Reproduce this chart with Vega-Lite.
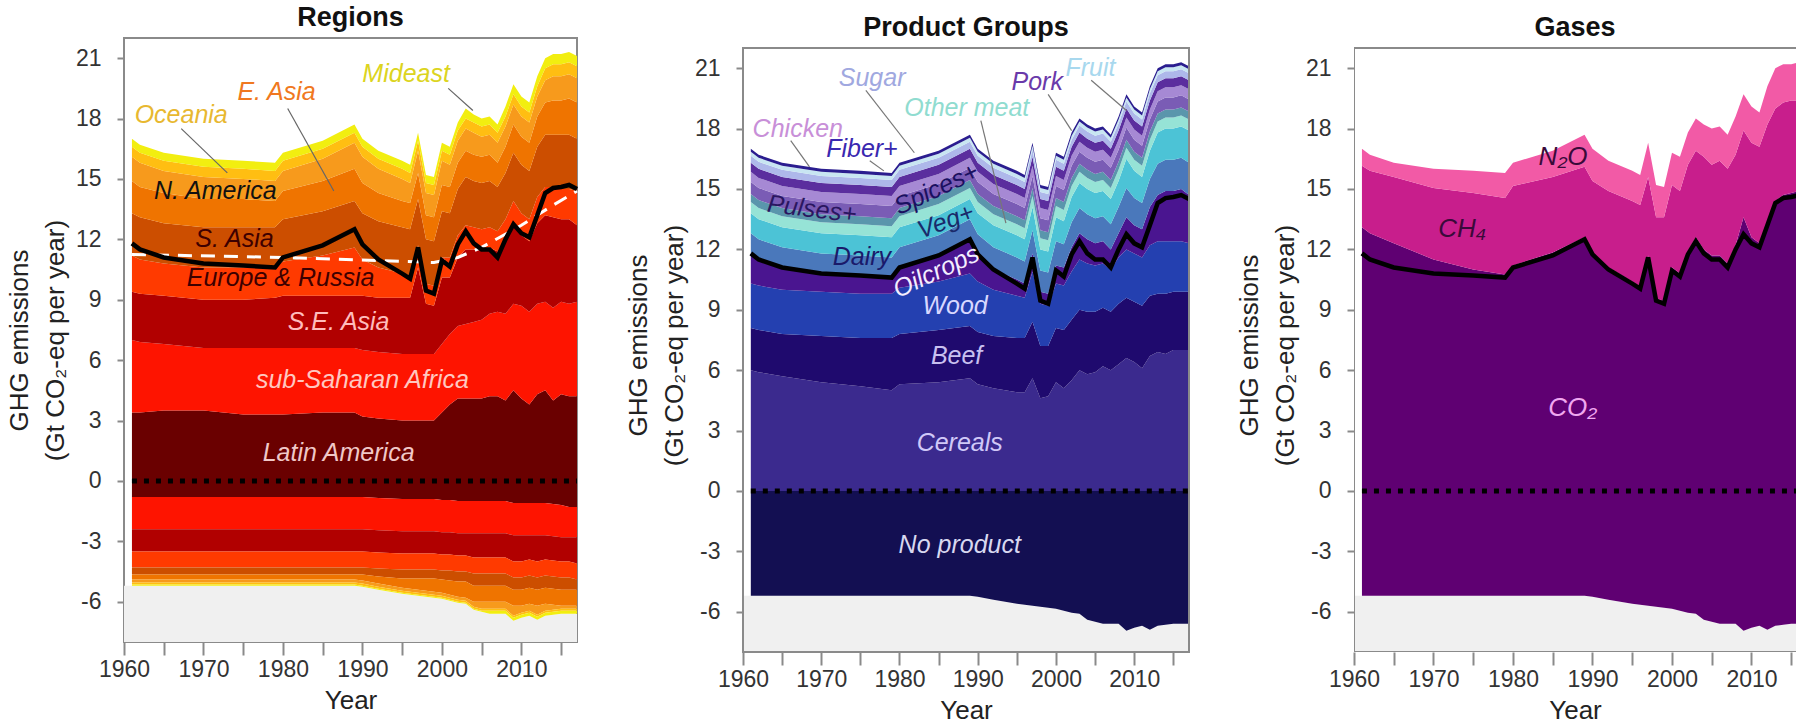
{
"$schema": "https://vega.github.io/schema/vega-lite/v6.json",
"padding": {"left": 5, "top": 3, "right": 0, "bottom": 0},
"background": "white",
"columns": 3,
"align": "none",
"spacing": 38,
"config": {
  "font": "Liberation Sans",
  "view": {"stroke": "#8a8a8a", "strokeWidth": 2},
  "legend": {"disable": true},
  "axis": {"labelFont": "Liberation Sans", "labelFontSize": 23, "labelColor": "#333", "titleFont": "Liberation Sans", "titleFontSize": 26, "titleFontWeight": "normal", "titleColor": "#222", "tickColor": "#8a8a8a", "tickWidth": 2, "domain": false, "grid": false},
  "axisY": {"labelPadding": 16, "titlePadding": 7, "titleLineHeight": 36},
  "title": {"font": "Liberation Sans", "fontSize": 27, "fontWeight": "bold", "color": "#111", "offset": 6, "anchor": "middle"}
},
"resolve": {"scale": {"color": "independent", "x": "independent", "y": "independent"}},
"datasets": {
  "regions": [
    {"year":1961,"p1":3.4,"p2":3.6,"p3":2.4,"p4":1.8,"p5":2.1,"p6":1.6,"p7":1.2,"p8":0.5,"p9":0.4,"n1":-0.8,"n2":-1.6,"n3":-1.1,"n4":-0.8,"n5":-0.35,"n6":-0.25,"n7":-0.15,"n8":-0.1,"n9":-0.05},
    {"year":1962,"p1":3.4,"p2":3.5,"p3":2.4,"p4":1.7,"p5":2.1,"p6":1.5,"p7":1.2,"p8":0.5,"p9":0.4,"n1":-0.8,"n2":-1.6,"n3":-1.1,"n4":-0.8,"n5":-0.35,"n6":-0.25,"n7":-0.15,"n8":-0.1,"n9":-0.05},
    {"year":1965,"p1":3.5,"p2":3.3,"p3":2.4,"p4":1.6,"p5":2.0,"p6":1.5,"p7":1.1,"p8":0.5,"p9":0.4,"n1":-0.8,"n2":-1.6,"n3":-1.1,"n4":-0.8,"n5":-0.35,"n6":-0.25,"n7":-0.15,"n8":-0.1,"n9":-0.05},
    {"year":1970,"p1":3.5,"p2":3.1,"p3":2.4,"p4":1.6,"p5":2.0,"p6":1.4,"p7":1.1,"p8":0.5,"p9":0.4,"n1":-0.8,"n2":-1.6,"n3":-1.1,"n4":-0.8,"n5":-0.35,"n6":-0.25,"n7":-0.15,"n8":-0.1,"n9":-0.05},
    {"year":1975,"p1":3.3,"p2":3.3,"p3":2.4,"p4":1.6,"p5":2.0,"p6":1.4,"p7":1.0,"p8":0.5,"p9":0.4,"n1":-0.8,"n2":-1.6,"n3":-1.1,"n4":-0.8,"n5":-0.35,"n6":-0.25,"n7":-0.15,"n8":-0.1,"n9":-0.05},
    {"year":1979,"p1":3.3,"p2":3.3,"p3":2.5,"p4":1.5,"p5":2.0,"p6":1.3,"p7":1.0,"p8":0.5,"p9":0.4,"n1":-0.8,"n2":-1.6,"n3":-1.1,"n4":-0.8,"n5":-0.35,"n6":-0.25,"n7":-0.15,"n8":-0.1,"n9":-0.05},
    {"year":1980,"p1":3.3,"p2":3.3,"p3":2.6,"p4":1.7,"p5":2.1,"p6":1.4,"p7":1.0,"p8":0.5,"p9":0.4,"n1":-0.8,"n2":-1.6,"n3":-1.1,"n4":-0.8,"n5":-0.35,"n6":-0.25,"n7":-0.15,"n8":-0.1,"n9":-0.05},
    {"year":1985,"p1":3.4,"p2":3.2,"p3":2.6,"p4":2.0,"p5":2.2,"p6":1.5,"p7":1.1,"p8":0.5,"p9":0.4,"n1":-0.8,"n2":-1.6,"n3":-1.1,"n4":-0.8,"n5":-0.35,"n6":-0.25,"n7":-0.15,"n8":-0.1,"n9":-0.05},
    {"year":1989,"p1":3.4,"p2":3.2,"p3":2.6,"p4":2.4,"p5":2.3,"p6":1.6,"p7":1.3,"p8":0.5,"p9":0.4,"n1":-0.8,"n2":-1.6,"n3":-1.1,"n4":-0.8,"n5":-0.35,"n6":-0.25,"n7":-0.15,"n8":-0.1,"n9":-0.05},
    {"year":1990,"p1":3.2,"p2":3.3,"p3":2.7,"p4":1.8,"p5":2.3,"p6":1.5,"p7":1.3,"p8":0.5,"p9":0.4,"n1":-0.8,"n2":-1.6,"n3":-1.1,"n4":-0.8,"n5":-0.35,"n6":-0.3,"n7":-0.15,"n8":-0.1,"n9":-0.05},
    {"year":1992,"p1":3.1,"p2":3.3,"p3":2.7,"p4":1.5,"p5":2.3,"p6":1.4,"p7":1.2,"p8":0.5,"p9":0.4,"n1":-0.85,"n2":-1.6,"n3":-1.1,"n4":-0.8,"n5":-0.4,"n6":-0.35,"n7":-0.15,"n8":-0.1,"n9":-0.05},
    {"year":1995,"p1":3.0,"p2":3.3,"p3":2.8,"p4":1.2,"p5":2.3,"p6":1.3,"p7":1.1,"p8":0.5,"p9":0.4,"n1":-0.9,"n2":-1.6,"n3":-1.1,"n4":-0.8,"n5":-0.45,"n6":-0.45,"n7":-0.15,"n8":-0.1,"n9":-0.05},
    {"year":1996,"p1":3.0,"p2":3.3,"p3":2.8,"p4":1.1,"p5":2.3,"p6":1.3,"p7":1.0,"p8":0.5,"p9":0.4,"n1":-0.9,"n2":-1.6,"n3":-1.1,"n4":-0.8,"n5":-0.45,"n6":-0.5,"n7":-0.15,"n8":-0.1,"n9":-0.05},
    {"year":1997,"p1":3.0,"p2":3.3,"p3":4.3,"p4":1.1,"p5":2.3,"p6":1.3,"p7":1.1,"p8":0.5,"p9":0.4,"n1":-0.9,"n2":-1.6,"n3":-1.1,"n4":-0.8,"n5":-0.45,"n6":-0.55,"n7":-0.15,"n8":-0.1,"n9":-0.05},
    {"year":1998,"p1":3.0,"p2":3.3,"p3":2.5,"p4":1.0,"p5":2.2,"p6":1.2,"p7":1.1,"p8":0.5,"p9":0.4,"n1":-0.9,"n2":-1.6,"n3":-1.1,"n4":-0.8,"n5":-0.45,"n6":-0.6,"n7":-0.15,"n8":-0.1,"n9":-0.05},
    {"year":1999,"p1":3.0,"p2":3.3,"p3":2.4,"p4":1.0,"p5":2.2,"p6":1.2,"p7":1.1,"p8":0.5,"p9":0.4,"n1":-0.9,"n2":-1.6,"n3":-1.1,"n4":-0.8,"n5":-0.45,"n6":-0.65,"n7":-0.15,"n8":-0.1,"n9":-0.05},
    {"year":2000,"p1":3.4,"p2":3.4,"p3":3.3,"p4":1.0,"p5":2.3,"p6":1.3,"p7":1.2,"p8":0.5,"p9":0.4,"n1":-0.95,"n2":-1.6,"n3":-1.1,"n4":-0.8,"n5":-0.45,"n6":-0.65,"n7":-0.15,"n8":-0.1,"n9":-0.05},
    {"year":2001,"p1":3.8,"p2":3.5,"p3":2.8,"p4":1.0,"p5":2.2,"p6":1.3,"p7":1.1,"p8":0.5,"p9":0.4,"n1":-0.95,"n2":-1.6,"n3":-1.1,"n4":-0.8,"n5":-0.5,"n6":-0.7,"n7":-0.15,"n8":-0.1,"n9":-0.05},
    {"year":2002,"p1":4.1,"p2":3.6,"p3":3.4,"p4":1.1,"p5":2.3,"p6":1.3,"p7":1.1,"p8":0.5,"p9":0.4,"n1":-1.0,"n2":-1.6,"n3":-1.1,"n4":-0.8,"n5":-0.5,"n6":-0.75,"n7":-0.15,"n8":-0.1,"n9":-0.05},
    {"year":2003,"p1":4.1,"p2":3.7,"p3":3.7,"p4":1.2,"p5":2.4,"p6":1.3,"p7":1.1,"p8":0.5,"p9":0.5,"n1":-1.0,"n2":-1.6,"n3":-1.1,"n4":-0.8,"n5":-0.5,"n6":-0.8,"n7":-0.15,"n8":-0.1,"n9":-0.05},
    {"year":2004,"p1":4.1,"p2":3.8,"p3":3.6,"p4":1.1,"p5":2.3,"p6":1.3,"p7":1.1,"p8":0.5,"p9":0.4,"n1":-1.0,"n2":-1.6,"n3":-1.2,"n4":-0.8,"n5":-0.6,"n6":-0.8,"n7":-0.25,"n8":-0.1,"n9":-0.05},
    {"year":2005,"p1":4.1,"p2":3.9,"p3":3.5,"p4":1.0,"p5":2.3,"p6":1.3,"p7":1.0,"p8":0.5,"p9":0.4,"n1":-1.0,"n2":-1.6,"n3":-1.2,"n4":-0.8,"n5":-0.6,"n6":-0.8,"n7":-0.35,"n8":-0.1,"n9":-0.05},
    {"year":2006,"p1":4.2,"p2":4.1,"p3":3.3,"p4":1.0,"p5":2.3,"p6":1.3,"p7":1.0,"p8":0.5,"p9":0.4,"n1":-1.0,"n2":-1.6,"n3":-1.2,"n4":-0.8,"n5":-0.6,"n6":-0.8,"n7":-0.35,"n8":-0.1,"n9":-0.15},
    {"year":2007,"p1":4.2,"p2":4.2,"p3":3.0,"p4":1.0,"p5":2.2,"p6":1.2,"p7":1.0,"p8":0.5,"p9":0.4,"n1":-1.0,"n2":-1.6,"n3":-1.2,"n4":-0.8,"n5":-0.6,"n6":-0.8,"n7":-0.35,"n8":-0.1,"n9":-0.15},
    {"year":2008,"p1":4.0,"p2":4.3,"p3":3.6,"p4":1.1,"p5":2.3,"p6":1.3,"p7":1.0,"p8":0.5,"p9":0.5,"n1":-1.0,"n2":-1.6,"n3":-1.2,"n4":-0.8,"n5":-0.6,"n6":-0.8,"n7":-0.35,"n8":-0.1,"n9":-0.15},
    {"year":2009,"p1":4.5,"p2":4.3,"p3":3.9,"p4":1.2,"p5":2.4,"p6":1.4,"p7":1.0,"p8":0.5,"p9":0.5,"n1":-1.1,"n2":-1.6,"n3":-1.3,"n4":-0.8,"n5":-0.6,"n6":-0.8,"n7":-0.5,"n8":-0.1,"n9":-0.15},
    {"year":2010,"p1":4.1,"p2":4.6,"p3":3.5,"p4":1.1,"p5":2.4,"p6":1.4,"p7":1.0,"p8":0.5,"p9":0.5,"n1":-1.1,"n2":-1.6,"n3":-1.3,"n4":-0.8,"n5":-0.6,"n6":-0.8,"n7":-0.35,"n8":-0.1,"n9":-0.15},
    {"year":2011,"p1":3.8,"p2":4.6,"p3":3.5,"p4":1.1,"p5":2.4,"p6":1.4,"p7":1.0,"p8":0.5,"p9":0.5,"n1":-1.1,"n2":-1.6,"n3":-1.2,"n4":-0.8,"n5":-0.6,"n6":-0.8,"n7":-0.35,"n8":-0.1,"n9":-0.15},
    {"year":2012,"p1":4.3,"p2":4.5,"p3":4.0,"p4":1.3,"p5":2.5,"p6":1.5,"p7":1.0,"p8":0.5,"p9":0.5,"n1":-1.1,"n2":-1.6,"n3":-1.3,"n4":-0.8,"n5":-0.6,"n6":-0.8,"n7":-0.45,"n8":-0.1,"n9":-0.15},
    {"year":2013,"p1":4.5,"p2":4.4,"p3":4.3,"p4":1.4,"p5":2.6,"p6":1.6,"p7":1.1,"p8":0.6,"p9":0.5,"n1":-1.1,"n2":-1.6,"n3":-1.2,"n4":-0.8,"n5":-0.6,"n6":-0.8,"n7":-0.35,"n8":-0.1,"n9":-0.15},
    {"year":2014,"p1":4.0,"p2":4.6,"p3":4.5,"p4":1.5,"p5":2.6,"p6":1.7,"p7":1.2,"p8":0.6,"p9":0.5,"n1":-1.15,"n2":-1.6,"n3":-1.2,"n4":-0.8,"n5":-0.6,"n6":-0.8,"n7":-0.25,"n8":-0.1,"n9":-0.15},
    {"year":2015,"p1":4.3,"p2":4.6,"p3":4.1,"p4":1.5,"p5":2.7,"p6":1.7,"p7":1.2,"p8":0.6,"p9":0.5,"n1":-1.2,"n2":-1.6,"n3":-1.2,"n4":-0.8,"n5":-0.6,"n6":-0.8,"n7":-0.15,"n8":-0.1,"n9":-0.15},
    {"year":2016,"p1":4.2,"p2":4.6,"p3":4.2,"p4":1.5,"p5":2.7,"p6":1.8,"p7":1.2,"p8":0.6,"p9":0.5,"n1":-1.3,"n2":-1.5,"n3":-1.2,"n4":-0.8,"n5":-0.6,"n6":-0.8,"n7":-0.15,"n8":-0.1,"n9":-0.15},
    {"year":2017,"p1":4.2,"p2":4.7,"p3":3.8,"p4":1.7,"p5":2.6,"p6":1.8,"p7":1.2,"p8":0.6,"p9":0.5,"n1":-1.3,"n2":-1.5,"n3":-1.3,"n4":-0.8,"n5":-0.5,"n6":-0.8,"n7":-0.15,"n8":-0.1,"n9":-0.15}
  ],
  "products": [
    {"year":1961,"p01":6.0,"p02":2.1,"p03":2.2,"p04":1.5,"p05":1.0,"p06":1.0,"p07":0.55,"p08":0.4,"p09":0.6,"p10":0.5,"p11":0.45,"p12":0.35,"p13":0.2,"p14":0.15,"n01":-5.2},
    {"year":1962,"p01":5.9,"p02":2.1,"p03":2.2,"p04":1.3,"p05":1.0,"p06":1.0,"p07":0.55,"p08":0.4,"p09":0.6,"p10":0.5,"p11":0.45,"p12":0.35,"p13":0.2,"p14":0.15,"n01":-5.2},
    {"year":1965,"p01":5.7,"p02":2.1,"p03":2.2,"p04":1.1,"p05":1.0,"p06":1.0,"p07":0.55,"p08":0.4,"p09":0.6,"p10":0.5,"p11":0.45,"p12":0.35,"p13":0.2,"p14":0.15,"n01":-5.2},
    {"year":1970,"p01":5.4,"p02":2.3,"p03":2.2,"p04":0.9,"p05":1.0,"p06":1.0,"p07":0.55,"p08":0.4,"p09":0.6,"p10":0.5,"p11":0.45,"p12":0.35,"p13":0.2,"p14":0.15,"n01":-5.2},
    {"year":1975,"p01":5.2,"p02":2.4,"p03":2.2,"p04":0.9,"p05":1.0,"p06":1.0,"p07":0.55,"p08":0.4,"p09":0.6,"p10":0.5,"p11":0.45,"p12":0.35,"p13":0.2,"p14":0.15,"n01":-5.2},
    {"year":1979,"p01":5.0,"p02":2.6,"p03":2.2,"p04":0.8,"p05":1.0,"p06":1.0,"p07":0.55,"p08":0.4,"p09":0.6,"p10":0.5,"p11":0.45,"p12":0.35,"p13":0.2,"p14":0.15,"n01":-5.2},
    {"year":1980,"p01":5.3,"p02":2.5,"p03":2.3,"p04":1.0,"p05":1.0,"p06":1.0,"p07":0.55,"p08":0.4,"p09":0.6,"p10":0.5,"p11":0.45,"p12":0.35,"p13":0.2,"p14":0.15,"n01":-5.2},
    {"year":1985,"p01":5.4,"p02":2.6,"p03":2.4,"p04":1.3,"p05":1.0,"p06":1.0,"p07":0.55,"p08":0.4,"p09":0.6,"p10":0.5,"p11":0.45,"p12":0.35,"p13":0.2,"p14":0.15,"n01":-5.2},
    {"year":1989,"p01":5.6,"p02":2.6,"p03":2.6,"p04":1.7,"p05":1.0,"p06":1.0,"p07":0.55,"p08":0.4,"p09":0.6,"p10":0.5,"p11":0.45,"p12":0.35,"p13":0.2,"p14":0.15,"n01":-5.2},
    {"year":1990,"p01":5.3,"p02":2.6,"p03":2.5,"p04":1.35,"p05":1.0,"p06":1.05,"p07":0.55,"p08":0.4,"p09":0.6,"p10":0.5,"p11":0.45,"p12":0.35,"p13":0.2,"p14":0.15,"n01":-5.25},
    {"year":1992,"p01":5.1,"p02":2.6,"p03":2.3,"p04":1.0,"p05":1.1,"p06":1.1,"p07":0.55,"p08":0.4,"p09":0.6,"p10":0.5,"p11":0.45,"p12":0.35,"p13":0.2,"p14":0.15,"n01":-5.4},
    {"year":1995,"p01":4.9,"p02":2.7,"p03":2.1,"p04":0.8,"p05":1.1,"p06":1.1,"p07":0.55,"p08":0.4,"p09":0.6,"p10":0.5,"p11":0.45,"p12":0.35,"p13":0.2,"p14":0.15,"n01":-5.6},
    {"year":1996,"p01":4.9,"p02":2.7,"p03":2.0,"p04":0.7,"p05":1.1,"p06":1.1,"p07":0.55,"p08":0.4,"p09":0.6,"p10":0.5,"p11":0.45,"p12":0.35,"p13":0.2,"p14":0.15,"n01":-5.65},
    {"year":1997,"p01":5.6,"p02":2.8,"p03":2.5,"p04":0.9,"p05":1.15,"p06":1.15,"p07":0.55,"p08":0.4,"p09":0.6,"p10":0.5,"p11":0.45,"p12":0.35,"p13":0.2,"p14":0.15,"n01":-5.7},
    {"year":1998,"p01":4.6,"p02":2.6,"p03":2.1,"p04":0.6,"p05":1.05,"p06":1.05,"p07":0.55,"p08":0.4,"p09":0.6,"p10":0.5,"p11":0.45,"p12":0.35,"p13":0.2,"p14":0.15,"n01":-5.75},
    {"year":1999,"p01":4.7,"p02":2.5,"p03":2.0,"p04":0.6,"p05":1.05,"p06":1.05,"p07":0.55,"p08":0.4,"p09":0.6,"p10":0.5,"p11":0.45,"p12":0.35,"p13":0.2,"p14":0.15,"n01":-5.8},
    {"year":2000,"p01":5.4,"p02":2.7,"p03":2.2,"p04":0.9,"p05":1.2,"p06":1.2,"p07":0.55,"p08":0.4,"p09":0.6,"p10":0.5,"p11":0.45,"p12":0.35,"p13":0.2,"p14":0.15,"n01":-5.85},
    {"year":2001,"p01":5.1,"p02":2.9,"p03":2.2,"p04":0.9,"p05":1.15,"p06":1.15,"p07":0.55,"p08":0.4,"p09":0.6,"p10":0.5,"p11":0.45,"p12":0.35,"p13":0.2,"p14":0.15,"n01":-5.95},
    {"year":2002,"p01":5.5,"p02":3.0,"p03":2.4,"p04":1.2,"p05":1.25,"p06":1.25,"p07":0.55,"p08":0.4,"p09":0.6,"p10":0.5,"p11":0.45,"p12":0.35,"p13":0.2,"p14":0.15,"n01":-6.05},
    {"year":2003,"p01":6.0,"p02":3.0,"p03":2.5,"p04":1.3,"p05":1.25,"p06":1.25,"p07":0.55,"p08":0.4,"p09":0.6,"p10":0.5,"p11":0.45,"p12":0.35,"p13":0.2,"p14":0.15,"n01":-6.1},
    {"year":2004,"p01":5.8,"p02":3.1,"p03":2.4,"p04":1.2,"p05":1.25,"p06":1.25,"p07":0.55,"p08":0.4,"p09":0.6,"p10":0.5,"p11":0.45,"p12":0.35,"p13":0.2,"p14":0.15,"n01":-6.4},
    {"year":2005,"p01":5.9,"p02":3.0,"p03":2.3,"p04":1.1,"p05":1.25,"p06":1.25,"p07":0.55,"p08":0.4,"p09":0.6,"p10":0.5,"p11":0.45,"p12":0.35,"p13":0.2,"p14":0.15,"n01":-6.5},
    {"year":2006,"p01":6.2,"p02":2.9,"p03":2.2,"p04":1.1,"p05":1.25,"p06":1.25,"p07":0.55,"p08":0.4,"p09":0.6,"p10":0.5,"p11":0.45,"p12":0.35,"p13":0.2,"p14":0.15,"n01":-6.6},
    {"year":2007,"p01":6.0,"p02":2.9,"p03":2.1,"p04":1.0,"p05":1.25,"p06":1.25,"p07":0.55,"p08":0.4,"p09":0.6,"p10":0.5,"p11":0.45,"p12":0.35,"p13":0.2,"p14":0.15,"n01":-6.6},
    {"year":2008,"p01":6.3,"p02":3.0,"p03":2.3,"p04":1.2,"p05":1.3,"p06":1.3,"p07":0.55,"p08":0.4,"p09":0.6,"p10":0.5,"p11":0.45,"p12":0.35,"p13":0.2,"p14":0.15,"n01":-6.6},
    {"year":2009,"p01":6.6,"p02":3.0,"p03":2.4,"p04":1.6,"p05":1.45,"p06":1.45,"p07":0.55,"p08":0.4,"p09":0.6,"p10":0.5,"p11":0.45,"p12":0.35,"p13":0.2,"p14":0.15,"n01":-6.95},
    {"year":2010,"p01":6.4,"p02":3.0,"p03":2.4,"p04":1.4,"p05":1.35,"p06":1.35,"p07":0.55,"p08":0.4,"p09":0.6,"p10":0.5,"p11":0.45,"p12":0.35,"p13":0.2,"p14":0.15,"n01":-6.8},
    {"year":2011,"p01":6.1,"p02":3.1,"p03":2.4,"p04":1.4,"p05":1.3,"p06":1.3,"p07":0.55,"p08":0.4,"p09":0.6,"p10":0.5,"p11":0.45,"p12":0.35,"p13":0.2,"p14":0.15,"n01":-6.7},
    {"year":2012,"p01":6.7,"p02":3.0,"p03":2.5,"p04":1.9,"p05":1.4,"p06":1.4,"p07":0.55,"p08":0.4,"p09":0.6,"p10":0.5,"p11":0.45,"p12":0.35,"p13":0.2,"p14":0.15,"n01":-6.9},
    {"year":2013,"p01":6.9,"p02":2.9,"p03":2.6,"p04":2.3,"p05":1.55,"p06":1.55,"p07":0.55,"p08":0.4,"p09":0.6,"p10":0.5,"p11":0.45,"p12":0.35,"p13":0.2,"p14":0.15,"n01":-6.7},
    {"year":2014,"p01":6.8,"p02":3.0,"p03":2.6,"p04":2.5,"p05":1.55,"p06":1.55,"p07":0.55,"p08":0.4,"p09":0.6,"p10":0.5,"p11":0.45,"p12":0.35,"p13":0.2,"p14":0.15,"n01":-6.65},
    {"year":2015,"p01":7.0,"p02":2.9,"p03":2.5,"p04":2.5,"p05":1.55,"p06":1.55,"p07":0.55,"p08":0.4,"p09":0.6,"p10":0.5,"p11":0.45,"p12":0.35,"p13":0.2,"p14":0.15,"n01":-6.6},
    {"year":2016,"p01":7.0,"p02":2.9,"p03":2.5,"p04":2.6,"p05":1.55,"p06":1.55,"p07":0.55,"p08":0.4,"p09":0.6,"p10":0.5,"p11":0.45,"p12":0.35,"p13":0.2,"p14":0.15,"n01":-6.6},
    {"year":2017,"p01":7.0,"p02":2.9,"p03":2.4,"p04":2.4,"p05":1.6,"p06":1.6,"p07":0.55,"p08":0.4,"p09":0.6,"p10":0.5,"p11":0.45,"p12":0.35,"p13":0.2,"p14":0.15,"n01":-6.6}
  ],
  "gases": [
    {"year":1961,"p1":13.1,"p2":3.05,"p3":0.85,"n1":-5.2},
    {"year":1962,"p1":12.8,"p2":3.1,"p3":0.8,"n1":-5.2},
    {"year":1965,"p1":12.3,"p2":3.3,"p3":0.7,"n1":-5.2},
    {"year":1970,"p1":11.5,"p2":3.55,"p3":0.95,"n1":-5.2},
    {"year":1975,"p1":11.0,"p2":3.8,"p3":1.1,"n1":-5.2},
    {"year":1979,"p1":10.75,"p2":3.8,"p3":1.25,"n1":-5.2},
    {"year":1980,"p1":11.2,"p2":3.95,"p3":1.15,"n1":-5.2},
    {"year":1985,"p1":11.85,"p2":3.75,"p3":1.3,"n1":-5.2},
    {"year":1989,"p1":12.6,"p2":3.5,"p3":1.6,"n1":-5.2},
    {"year":1990,"p1":11.85,"p2":3.55,"p3":1.6,"n1":-5.25},
    {"year":1992,"p1":11.1,"p2":3.8,"p3":1.5,"n1":-5.4},
    {"year":1995,"p1":10.4,"p2":4.0,"p3":1.5,"n1":-5.6},
    {"year":1996,"p1":10.15,"p2":4.05,"p3":1.5,"n1":-5.65},
    {"year":1997,"p1":11.7,"p2":3.9,"p3":1.7,"n1":-5.7},
    {"year":1998,"p1":9.55,"p2":4.05,"p3":1.6,"n1":-5.75},
    {"year":1999,"p1":9.45,"p2":4.15,"p3":1.5,"n1":-5.8},
    {"year":2000,"p1":11.1,"p2":4.1,"p3":1.6,"n1":-5.85},
    {"year":2001,"p1":10.8,"p2":4.1,"p3":1.7,"n1":-5.95},
    {"year":2002,"p1":11.9,"p2":4.3,"p3":1.6,"n1":-6.05},
    {"year":2003,"p1":12.6,"p2":4.3,"p3":1.6,"n1":-6.1},
    {"year":2004,"p1":12.0,"p2":4.6,"p3":1.6,"n1":-6.4},
    {"year":2005,"p1":11.7,"p2":4.5,"p3":1.8,"n1":-6.5},
    {"year":2006,"p1":11.7,"p2":4.7,"p3":1.7,"n1":-6.6},
    {"year":2007,"p1":11.3,"p2":4.7,"p3":1.7,"n1":-6.6},
    {"year":2008,"p1":12.2,"p2":4.5,"p3":1.9,"n1":-6.6},
    {"year":2009,"p1":13.6,"p2":4.3,"p3":1.8,"n1":-6.95},
    {"year":2010,"p1":12.6,"p2":4.7,"p3":1.8,"n1":-6.8},
    {"year":2011,"p1":12.3,"p2":4.8,"p3":1.7,"n1":-6.7},
    {"year":2012,"p1":13.3,"p2":4.9,"p3":1.9,"n1":-6.9},
    {"year":2013,"p1":14.4,"p2":4.6,"p3":2.0,"n1":-6.7},
    {"year":2014,"p1":14.7,"p2":4.6,"p3":1.9,"n1":-6.65},
    {"year":2015,"p1":14.8,"p2":4.6,"p3":1.8,"n1":-6.6},
    {"year":2016,"p1":14.9,"p2":4.5,"p3":1.9,"n1":-6.6},
    {"year":2017,"p1":14.7,"p2":4.6,"p3":1.8,"n1":-6.6}
  ],
  "tot": [
    {"year":1960,"net":null,"neg":-5.2},
    {"year":1961,"net":11.8,"neg":-5.2},{"year":1962,"net":11.5,"neg":-5.2},{"year":1965,"net":11.1,"neg":-5.2},
    {"year":1970,"net":10.8,"neg":-5.2},{"year":1975,"net":10.7,"neg":-5.2},{"year":1979,"net":10.6,"neg":-5.2},
    {"year":1980,"net":11.1,"neg":-5.2},{"year":1985,"net":11.7,"neg":-5.2},{"year":1989,"net":12.5,"neg":-5.2},
    {"year":1990,"net":11.75,"neg":-5.25},{"year":1992,"net":11.0,"neg":-5.4},{"year":1995,"net":10.3,"neg":-5.6},
    {"year":1996,"net":10.05,"neg":-5.65},{"year":1997,"net":11.6,"neg":-5.7},{"year":1998,"net":9.45,"neg":-5.75},
    {"year":1999,"net":9.3,"neg":-5.8},{"year":2000,"net":10.95,"neg":-5.85},{"year":2001,"net":10.65,"neg":-5.95},
    {"year":2002,"net":11.75,"neg":-6.05},{"year":2003,"net":12.4,"neg":-6.1},{"year":2004,"net":11.8,"neg":-6.4},
    {"year":2005,"net":11.5,"neg":-6.5},{"year":2006,"net":11.5,"neg":-6.6},{"year":2007,"net":11.1,"neg":-6.6},
    {"year":2008,"net":12.0,"neg":-6.6},{"year":2009,"net":12.75,"neg":-6.95},{"year":2010,"net":12.3,"neg":-6.8},
    {"year":2011,"net":12.1,"neg":-6.7},{"year":2012,"net":13.2,"neg":-6.9},{"year":2013,"net":14.3,"neg":-6.7},
    {"year":2014,"net":14.55,"neg":-6.65},{"year":2015,"net":14.6,"neg":-6.6},{"year":2016,"net":14.7,"neg":-6.6},
    {"year":2017,"net":14.5,"neg":-6.6}
  ],
  "trend": [
    {"year":1961,"v":11.25},{"year":1980,"v":11.1},{"year":1999,"v":10.85},{"year":2002,"v":11.1},
    {"year":2005,"v":11.6},{"year":2010,"v":12.7},{"year":2014,"v":13.7},{"year":2017,"v":14.4}
  ]
},
"concat": [
{
  "width": 453, "height": 604,
  "title": {"text": "Regions"},
  "resolve": {"scale": {"color": "independent"}},
  "layer": [
    {"data": {"name": "tot"}, "mark": {"type": "area", "color": "#f0f0f0"},
     "encoding": {
       "x": {"field": "year", "type": "quantitative", "scale": {"domain": [1960, 2017], "nice": false, "zero": false},
             "axis": {"values": [1960,1965,1970,1975,1980,1985,1990,1995,2000,2005,2010,2015], "format": "d", "labelExpr": "datum.value % 10 === 0 ? datum.label : ''", "tickSize": 13, "labelPadding": 3, "title": "Year", "titlePadding": 6, "labelOverlap": false, "labelFlush": false}},
       "y": {"field": "neg", "type": "quantitative", "scale": {"domain": [-8, 22], "nice": false, "zero": false},
             "axis": {"values": [-6,-3,0,3,6,9,12,15,18,21], "labelExpr": "replace(datum.label, '\u2212', '-')", "tickSize": 7, "title": ["GHG emissions", "(Gt CO\u2082-eq per year)"]}},
       "y2": {"datum": -8}}},
    {"data": {"name": "regions"},
     "transform": [{"fold": ["p1","p2","p3","p4","p5","p6","p7","p8","p9","n1","n2","n3","n4","n5","n6","n7","n8","n9"], "as": ["key", "value"]}],
     "mark": {"type": "area"},
     "encoding": {
       "x": {"field": "year", "type": "quantitative", "scale": {"domain": [1960, 2017], "nice": false, "zero": false}},
       "y": {"field": "value", "type": "quantitative", "stack": "zero", "scale": {"domain": [-8, 22], "nice": false, "zero": false}},
       "color": {"field": "key", "type": "nominal", "legend": null,
         "scale": {"domain": ["p1","p2","p3","p4","p5","p6","p7","p8","p9","n1","n2","n3","n4","n5","n6","n7","n8","n9"],
                   "range": ["#6a0000","#fe1400","#b10000","#ff3a00","#cc4e00","#ef7400","#f79a1c","#ffbe12","#f2ee10","#6a0000","#fe1400","#b10000","#ff3a00","#cc4e00","#ef7400","#f79a1c","#ffbe12","#f2ee10"]}},
       "order": {"field": "key", "type": "ordinal"}}},
    {"data": {"values": [{}]},
     "mark": {"type": "rule", "color": "#000", "strokeWidth": 5, "strokeDash": [5, 7]},
     "encoding": {"y": {"datum": 0, "scale": {"domain": [-8, 22], "nice": false, "zero": false}}, "x": {"datum": 1961, "scale": {"domain": [1960, 2017], "nice": false, "zero": false}}, "x2": {"datum": 2017}}},
    {"data": {"name": "trend"}, "mark": {"type": "line", "color": "#ffffff", "strokeWidth": 3, "strokeDash": [14, 9]},
     "encoding": {"x": {"field": "year", "type": "quantitative", "scale": {"domain": [1960, 2017], "nice": false, "zero": false}}, "y": {"field": "v", "type": "quantitative", "scale": {"domain": [-8, 22], "nice": false, "zero": false}}}},
    {"data": {"name": "tot"}, "mark": {"type": "line", "color": "#000", "strokeWidth": 4.5},
     "encoding": {"x": {"field": "year", "type": "quantitative", "scale": {"domain": [1960, 2017], "nice": false, "zero": false}}, "y": {"field": "net", "type": "quantitative", "scale": {"domain": [-8, 22], "nice": false, "zero": false}}}},
    {"data": {"values": [
       {"x": 1967.2, "y": 17.5, "x2": 1973.0, "y2": 15.3},
       {"x": 1980.6, "y": 18.5, "x2": 1986.4, "y2": 14.4},
       {"x": 2000.8, "y": 19.5, "x2": 2003.9, "y2": 18.4}]},
     "mark": {"type": "rule", "color": "#666", "strokeWidth": 1.2},
     "encoding": {"x": {"field": "x", "type": "quantitative", "scale": {"domain": [1960, 2017], "nice": false, "zero": false}}, "y": {"field": "y", "type": "quantitative", "scale": {"domain": [-8, 22], "nice": false, "zero": false}}, "x2": {"field": "x2"}, "y2": {"field": "y2"}}},
    {"data": {"values": [
       {"label": "Oceania", "x": 1967.2, "y": 18.2},
       {"label": "E. Asia", "x": 1979.2, "y": 19.3},
       {"label": "Mideast", "x": 1995.5, "y": 20.2},
       {"label": "N. America", "x": 1971.5, "y": 14.4},
       {"label": "S. Asia", "x": 1973.9, "y": 12.0},
       {"label": "Europe & Russia", "x": 1979.7, "y": 10.1},
       {"label": "S.E. Asia", "x": 1987.0, "y": 7.9},
       {"label": "sub-Saharan Africa", "x": 1990.0, "y": 5.0},
       {"label": "Latin America", "x": 1987.0, "y": 1.4}]},
     "mark": {"type": "text", "fontSize": 25, "fontStyle": "italic", "align": "center", "baseline": "middle"},
     "encoding": {"x": {"field": "x", "type": "quantitative", "scale": {"domain": [1960, 2017], "nice": false, "zero": false}}, "y": {"field": "y", "type": "quantitative", "scale": {"domain": [-8, 22], "nice": false, "zero": false}}, "text": {"field": "label"},
       "color": {"field": "label", "type": "nominal", "legend": null,
         "scale": {"domain": ["Oceania","E. Asia","Mideast","N. America","S. Asia","Europe & Russia","S.E. Asia","sub-Saharan Africa","Latin America"],
                   "range": ["#e8b830","#f07820","#dcd420","#111111","#3d0000","#3d0000","#ffbcbc","#ffc8c0","#f0c8c8"]}}}}
  ]
},
{
  "width": 446, "height": 614,
  "view": {"stroke": null},
  "title": {"text": "Product Groups", "offset": -4},
  "resolve": {"scale": {"color": "independent"}},
  "layer": [
    {"data": {"name": "tot"}, "mark": {"type": "area", "color": "#f0f0f0"},
     "encoding": {
       "x": {"field": "year", "type": "quantitative", "scale": {"domain": [1960, 2017], "nice": false, "zero": false},
             "axis": {"values": [1960,1965,1970,1975,1980,1985,1990,1995,2000,2005,2010,2015], "format": "d", "labelExpr": "datum.value % 10 === 0 ? datum.label : ''", "tickSize": 13, "labelPadding": 3, "title": "Year", "titlePadding": 6, "labelOverlap": false, "labelFlush": false}},
       "y": {"field": "neg", "type": "quantitative", "scale": {"domain": [-8, 22.5], "nice": false, "zero": false},
             "axis": {"values": [-6,-3,0,3,6,9,12,15,18,21], "labelExpr": "replace(datum.label, '\u2212', '-')", "tickSize": 7, "title": ["GHG emissions", "(Gt CO\u2082-eq per year)"]}},
       "y2": {"datum": -8}}},
    {"data": {"name": "products"},
     "transform": [{"fold": ["p01","p02","p03","p04","p05","p06","p07","p08","p09","p10","p11","p12","p13","p14","n01"], "as": ["key", "value"]}],
     "mark": {"type": "area"},
     "encoding": {
       "x": {"field": "year", "type": "quantitative", "scale": {"domain": [1960, 2017], "nice": false, "zero": false}},
       "y": {"field": "value", "type": "quantitative", "stack": "zero", "scale": {"domain": [-8, 22.5], "nice": false, "zero": false}},
       "color": {"field": "key", "type": "nominal", "legend": null,
         "scale": {"domain": ["p01","p02","p03","p04","p05","p06","p07","p08","p09","p10","p11","p12","p13","p14","n01"],
                   "range": ["#3b2a8e","#1f0a6e","#2440b0","#4a1590","#4a78bb","#4cc3d6","#96e3d6","#5a96ac","#7a5cb5","#a689d4","#5b2e9e","#aeb8ea","#c8e6f2","#2a1d8f","#130f52"]}},
       "order": {"field": "key", "type": "ordinal"}}},
    {"data": {"values": [{}]},
     "mark": {"type": "rule", "color": "#000", "strokeWidth": 5, "strokeDash": [5, 7]},
     "encoding": {"y": {"datum": 0, "scale": {"domain": [-8, 22.5], "nice": false, "zero": false}}, "x": {"datum": 1961, "scale": {"domain": [1960, 2017], "nice": false, "zero": false}}, "x2": {"datum": 2017}}},
    {"data": {"name": "tot"}, "mark": {"type": "line", "color": "#000", "strokeWidth": 4.5},
     "encoding": {"x": {"field": "year", "type": "quantitative", "scale": {"domain": [1960, 2017], "nice": false, "zero": false}}, "y": {"field": "net", "type": "quantitative", "scale": {"domain": [-8, 22.5], "nice": false, "zero": false}}}},
    {"data": {"values": [
       {"x": 1966.1, "y": 17.4, "x2": 1968.5, "y2": 16.1},
       {"x": 1976.2, "y": 16.4, "x2": 1978.0, "y2": 15.9},
       {"x": 1975.7, "y": 19.9, "x2": 1981.9, "y2": 16.8},
       {"x": 1990.4, "y": 18.4, "x2": 1993.6, "y2": 13.3},
       {"x": 1999.0, "y": 19.7, "x2": 2002.0, "y2": 17.9},
       {"x": 2004.5, "y": 20.4, "x2": 2009.0, "y2": 18.9}]},
     "mark": {"type": "rule", "color": "#777", "strokeWidth": 1.2},
     "encoding": {"x": {"field": "x", "type": "quantitative", "scale": {"domain": [1960, 2017], "nice": false, "zero": false}}, "y": {"field": "y", "type": "quantitative", "scale": {"domain": [-8, 22.5], "nice": false, "zero": false}}, "x2": {"field": "x2"}, "y2": {"field": "y2"}}},
    {"data": {"values": [
       {"label": "Chicken", "x": 1967.0, "y": 18.0},
       {"label": "Fiber+", "x": 1975.2, "y": 17.0},
       {"label": "Sugar", "x": 1976.5, "y": 20.5},
       {"label": "Other meat", "x": 1988.6, "y": 19.0},
       {"label": "Pork", "x": 1997.6, "y": 20.3},
       {"label": "Fruit", "x": 2004.4, "y": 21.0},
       {"label": "Dairy", "x": 1975.2, "y": 11.6},
       {"label": "Wood", "x": 1987.1, "y": 9.2},
       {"label": "Beef", "x": 1987.3, "y": 6.7},
       {"label": "Cereals", "x": 1987.7, "y": 2.4},
       {"label": "No product", "x": 1987.7, "y": -2.7}]},
     "mark": {"type": "text", "fontSize": 25, "fontStyle": "italic", "align": "center", "baseline": "middle"},
     "encoding": {"x": {"field": "x", "type": "quantitative", "scale": {"domain": [1960, 2017], "nice": false, "zero": false}}, "y": {"field": "y", "type": "quantitative", "scale": {"domain": [-8, 22.5], "nice": false, "zero": false}}, "text": {"field": "label"},
       "color": {"field": "label", "type": "nominal", "legend": null,
         "scale": {"domain": ["Chicken","Fiber+","Sugar","Other meat","Pork","Fruit","Dairy","Wood","Beef","Cereals","No product"],
                   "range": ["#c88fd8","#3a28b0","#a0a8e0","#90dcd0","#6a3aaa","#a8d8ee","#1a1a6a","#d8d8ff","#c8c0f0","#d0c8f8","#d8d8f0"]}}}},
    {"data": {"values": [{"label": "Spices+", "x": 1984.7, "y": 15.0}, {"label": "Oilcrops", "x": 1984.7, "y": 10.9}]},
     "mark": {"type": "text", "fontSize": 25, "fontStyle": "italic", "align": "center", "baseline": "middle", "angle": 335},
     "encoding": {"x": {"field": "x", "type": "quantitative", "scale": {"domain": [1960, 2017], "nice": false, "zero": false}}, "y": {"field": "y", "type": "quantitative", "scale": {"domain": [-8, 22.5], "nice": false, "zero": false}}, "text": {"field": "label"},
       "color": {"field": "label", "type": "nominal", "legend": null, "scale": {"domain": ["Spices+", "Oilcrops"], "range": ["#1a1060", "#f4eeff"]}}}},
    {"data": {"values": [{"label": "Veg+", "x": 1985.9, "y": 13.4}]},
     "mark": {"type": "text", "fontSize": 25, "fontStyle": "italic", "align": "center", "baseline": "middle", "angle": 340, "color": "#1a2a6a"},
     "encoding": {"x": {"field": "x", "type": "quantitative", "scale": {"domain": [1960, 2017], "nice": false, "zero": false}}, "y": {"field": "y", "type": "quantitative", "scale": {"domain": [-8, 22.5], "nice": false, "zero": false}}, "text": {"field": "label"}}},
    {"data": {"values": [{"label": "Pulses+", "x": 1968.8, "y": 14.0}]},
     "mark": {"type": "text", "fontSize": 25, "fontStyle": "italic", "align": "center", "baseline": "middle", "angle": 7, "color": "#2a1660"},
     "encoding": {"x": {"field": "x", "type": "quantitative", "scale": {"domain": [1960, 2017], "nice": false, "zero": false}}, "y": {"field": "y", "type": "quantitative", "scale": {"domain": [-8, 22.5], "nice": false, "zero": false}}, "text": {"field": "label"}}},
    {"data": {"values": [{}]},
     "mark": {"type": "rect", "fill": "transparent", "stroke": "#8a8a8a", "strokeWidth": 2},
     "encoding": {"x": {"datum": 1960, "scale": {"domain": [1960, 2017], "nice": false, "zero": false}}, "x2": {"datum": 2017}, "y": {"datum": -8, "scale": {"domain": [-8, 22.5], "nice": false, "zero": false}}, "y2": {"datum": 22}}}
  ]
},
{
  "width": 442, "height": 614,
  "view": {"stroke": null},
  "title": {"text": "Gases", "offset": -4},
  "resolve": {"scale": {"color": "independent"}},
  "layer": [
    {"data": {"name": "tot"}, "mark": {"type": "area", "color": "#f0f0f0", "clip": true},
     "encoding": {
       "x": {"field": "year", "type": "quantitative", "scale": {"domain": [1960, 2015.6], "nice": false, "zero": false},
             "axis": {"values": [1960,1965,1970,1975,1980,1985,1990,1995,2000,2005,2010,2015], "format": "d", "labelExpr": "datum.value % 10 === 0 ? datum.label : ''", "tickSize": 13, "labelPadding": 3, "title": "Year", "titlePadding": 6, "labelOverlap": false, "labelFlush": false}},
       "y": {"field": "neg", "type": "quantitative", "scale": {"domain": [-8, 22.5], "nice": false, "zero": false},
             "axis": {"values": [-6,-3,0,3,6,9,12,15,18,21], "labelExpr": "replace(datum.label, '\u2212', '-')", "tickSize": 7, "title": ["GHG emissions", "(Gt CO\u2082-eq per year)"]}},
       "y2": {"datum": -8}}},
    {"data": {"name": "gases"},
     "transform": [{"fold": ["p1","p2","p3","n1"], "as": ["key", "value"]}],
     "mark": {"type": "area", "clip": true},
     "encoding": {
       "x": {"field": "year", "type": "quantitative", "scale": {"domain": [1960, 2015.6], "nice": false, "zero": false}},
       "y": {"field": "value", "type": "quantitative", "stack": "zero", "scale": {"domain": [-8, 22.5], "nice": false, "zero": false}},
       "color": {"field": "key", "type": "nominal", "legend": null,
         "scale": {"domain": ["p1","p2","p3","n1"], "range": ["#5f0072","#c81e8c","#f25aa6","#5f0072"]}},
       "order": {"field": "key", "type": "ordinal"}}},
    {"data": {"values": [{}]},
     "mark": {"type": "rule", "color": "#000", "strokeWidth": 5, "strokeDash": [5, 7], "clip": true},
     "encoding": {"y": {"datum": 0, "scale": {"domain": [-8, 22.5], "nice": false, "zero": false}}, "x": {"datum": 1961, "scale": {"domain": [1960, 2015.6], "nice": false, "zero": false}}, "x2": {"datum": 2017}}},
    {"data": {"name": "tot"}, "mark": {"type": "line", "color": "#000", "strokeWidth": 4.5, "clip": true},
     "encoding": {"x": {"field": "year", "type": "quantitative", "scale": {"domain": [1960, 2015.6], "nice": false, "zero": false}}, "y": {"field": "net", "type": "quantitative", "scale": {"domain": [-8, 22.5], "nice": false, "zero": false}}}},
    {"data": {"values": [
       {"label": "N\u2082O", "x": 1986.3, "y": 16.6},
       {"label": "CH\u2084", "x": 1973.6, "y": 13.0},
       {"label": "CO\u2082", "x": 1987.5, "y": 4.1}]},
     "mark": {"type": "text", "fontSize": 26, "fontStyle": "italic", "align": "center", "baseline": "middle"},
     "encoding": {"x": {"field": "x", "type": "quantitative", "scale": {"domain": [1960, 2015.6], "nice": false, "zero": false}}, "y": {"field": "y", "type": "quantitative", "scale": {"domain": [-8, 22.5], "nice": false, "zero": false}}, "text": {"field": "label"},
       "color": {"field": "label", "type": "nominal", "legend": null,
         "scale": {"domain": ["N\u2082O", "CH\u2084", "CO\u2082"], "range": ["#3a0a3a", "#3a0a3a", "#f0a8f0"]}}}},
    {"data": {"values": [{}]},
     "mark": {"type": "rect", "fill": "transparent", "stroke": "#8a8a8a", "strokeWidth": 2, "clip": true},
     "encoding": {"x": {"datum": 1960, "scale": {"domain": [1960, 2015.6], "nice": false, "zero": false}}, "x2": {"datum": 2017}, "y": {"datum": -8, "scale": {"domain": [-8, 22.5], "nice": false, "zero": false}}, "y2": {"datum": 22}}}
  ]
}
]
}
